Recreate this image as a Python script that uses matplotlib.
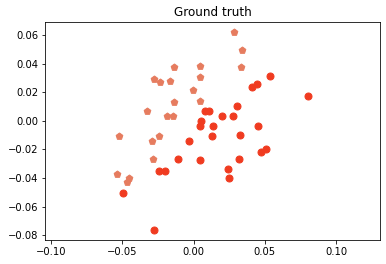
import matplotlib
matplotlib.use("Agg")
import matplotlib.pyplot as plt

# pentagon group
pent_x = [-0.0137, 0.0046, -0.0277, -0.0235, -0.0165, 0.0046, -0.0003, -0.0137, 0.0046,
          -0.0326, -0.0186, -0.0144, 0.0284, 0.0340, 0.0333, -0.0522, -0.0242, -0.0293,
          -0.0284, -0.0536, -0.0452, -0.0466]
pent_y = [0.0376, 0.0385, 0.0292, 0.0273, 0.0278, 0.0308, 0.0215, 0.0133, 0.0142,
          0.0070, 0.0033, 0.0033, 0.0621, 0.0495, 0.0376, -0.0105, -0.0105, -0.0142,
          -0.0268, -0.0371, -0.0399, -0.0429]

# circle group
circ_x = [0.0537, 0.0443, 0.0410, 0.0303, 0.0081, 0.0109, 0.0200, 0.0277, 0.0053,
          0.0046, 0.0135, 0.0452, 0.0130, 0.0326, 0.0476, 0.0509, 0.0046, 0.0319,
          0.0242, 0.0249, -0.0032, -0.0109, -0.0242, -0.0200, -0.0494, -0.0277, 0.0803]
circ_y = [0.0313, 0.0257, 0.0236, 0.0103, 0.0070, 0.0070, 0.0033, 0.0033, 0.0000,
          -0.0037, -0.0037, -0.0037, -0.0107, -0.0100, -0.0215, -0.0198, -0.0275, -0.0268,
          -0.0338, -0.0401, -0.0142, -0.0268, -0.0352, -0.0352, -0.0506, -0.0765, 0.0175]

fig = plt.figure(figsize=(386 / 72, 264 / 72), dpi=72)
ax = fig.add_axes([45.3 / 386, 1 - 240 / 264, (380.3 - 45.3) / 386, (240 - 22.3) / 264])

ax.scatter(pent_x, pent_y, marker="p", s=49, color="#e67c5f")
ax.scatter(circ_x, circ_y, marker="o", s=49, color="#f03b20")

ax.set_xlim(-0.104, 0.131)
ax.set_title("Ground truth")

fig.savefig("out.png", dpi=72)
